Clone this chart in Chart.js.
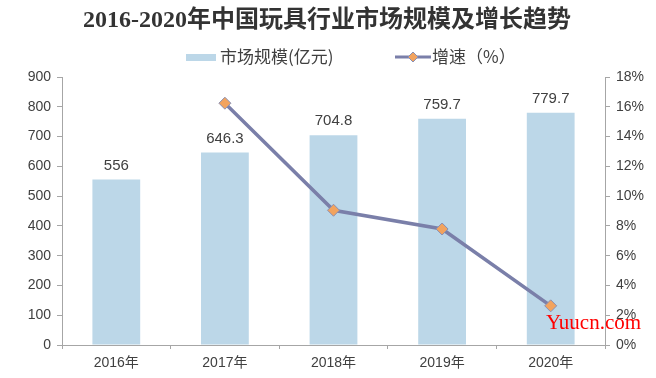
<!DOCTYPE html>
<html>
<head>
<meta charset="utf-8">
<script src="https://cdn.jsdelivr.net/npm/chart.js@4.4.1/dist/chart.umd.min.js"></script>
<style>
  html, body { margin: 0; padding: 0; background: #fff; }
  #wrap { position: relative; width: 656px; height: 378px; }
  #wm { position: absolute; left: 546px; top: 310px; font-family: "Liberation Serif", "DejaVu Serif", serif; font-size: 21px; color: #ff0000; white-space: nowrap; }
</style>
</head>
<body>
<div id="wrap">
  <canvas id="c" width="656" height="378"></canvas>
  <div id="wm">Yuucn.com</div>
</div>
<script>
const categories = ["2016年", "2017年", "2018年", "2019年", "2020年"];
const marketSize = [556, 646.3, 704.8, 759.7, 779.7];
const growthRate = [null, 16.24, 9.05, 7.79, 2.63];
const marketLabel = "市场规模(亿元)";
const growthLabel = "增速（%）";
const titleText = "2016-2020年中国玩具行业市场规模及增长趋势";

const BAR_COLOR = "#bcd7e8";
const LINE_COLOR = "#7a7fa9";
const MARK_COLOR = "#f2a35e";
const AXIS_COLOR = "#a6a6a6";
const TEXT_COLOR = "#404040";
const SANS = '"Liberation Sans", Arial, "Noto Sans CJK SC", sans-serif';

const overlay = {
  id: "overlay",
  afterDraw(chart) {
    const ctx = chart.ctx;
    ctx.save();
    // bar value labels
    const meta = chart.getDatasetMeta(1);
    ctx.font = "15px " + SANS;
    ctx.fillStyle = TEXT_COLOR;
    ctx.textAlign = "center";
    ctx.textBaseline = "middle";
    meta.data.forEach((bar, i) => {
      ctx.fillText(String(marketSize[i]), bar.x, bar.y - 14);
    });
    // title
    ctx.font = 'bold 24px "Liberation Serif", "Noto Sans CJK SC", serif';
    ctx.fillStyle = "#333333";
    ctx.textAlign = "center";
    ctx.fillText(titleText, 327, 21);
    // legend
    const ly = 57;
    ctx.fillStyle = BAR_COLOR;
    ctx.fillRect(186, ly - 3, 30, 7);
    ctx.font = '17px "Noto Sans CJK SC", sans-serif';
    ctx.fillStyle = TEXT_COLOR;
    ctx.textAlign = "left";
    ctx.fillText(marketLabel, 220, ly);
    ctx.strokeStyle = LINE_COLOR;
    ctx.lineWidth = 3;
    ctx.beginPath();
    ctx.moveTo(395, ly);
    ctx.lineTo(431, ly);
    ctx.stroke();
    ctx.fillStyle = MARK_COLOR;
    ctx.strokeStyle = "#8a8fb2";
    ctx.lineWidth = 1;
    ctx.beginPath();
    ctx.moveTo(413, ly - 5);
    ctx.lineTo(418, ly);
    ctx.lineTo(413, ly + 5);
    ctx.lineTo(408, ly);
    ctx.closePath();
    ctx.fill();
    ctx.stroke();
    ctx.fillStyle = TEXT_COLOR;
    ctx.fillText(growthLabel, 432, ly);
    ctx.restore();
  }
};

new Chart(document.getElementById("c"), {
  data: {
    labels: categories,
    datasets: [
      {
        type: "line",
        label: growthLabel,
        data: growthRate,
        yAxisID: "y1",
        borderColor: LINE_COLOR,
        borderWidth: 3.5,
        pointStyle: "rectRot",
        pointRadius: 6,
        pointBackgroundColor: MARK_COLOR,
        pointBorderColor: "#8a8fb2",
        pointBorderWidth: 1,
        tension: 0,
        order: 0
      },
      {
        type: "bar",
        label: marketLabel,
        data: marketSize,
        yAxisID: "y",
        backgroundColor: BAR_COLOR,
        barPercentage: 0.44,
        categoryPercentage: 1,
        order: 1
      }
    ]
  },
  options: {
    responsive: false,
    animation: false,
    devicePixelRatio: 1,
    layout: { padding: { top: 77, left: 0, right: 0, bottom: 0 } },
    plugins: { legend: { display: false }, title: { display: false }, tooltip: { enabled: false } },
    scales: {
      x: {
        offset: true,
        grid: { offset: true, drawOnChartArea: false, drawTicks: true, tickLength: 4, color: AXIS_COLOR },
        border: { color: AXIS_COLOR, width: 1 },
        ticks: { color: TEXT_COLOR, font: { size: 14, family: SANS }, padding: 6, maxRotation: 0 },
        afterFit(s) { s.height = 33; }
      },
      y: {
        position: "left",
        min: 0, max: 900,
        ticks: { stepSize: 100, color: TEXT_COLOR, font: { size: 14, family: SANS }, padding: 6 },
        grid: { drawOnChartArea: false, drawTicks: true, tickLength: 5, color: AXIS_COLOR },
        border: { color: AXIS_COLOR, width: 1 },
        afterFit(s) { s.width = 62; }
      },
      y1: {
        position: "right",
        min: 0, max: 18,
        ticks: { stepSize: 2, color: TEXT_COLOR, font: { size: 14, family: SANS }, padding: 6, callback: v => v + "%" },
        grid: { drawOnChartArea: false, drawTicks: true, tickLength: 5, color: AXIS_COLOR },
        border: { color: AXIS_COLOR, width: 1 },
        afterFit(s) { s.width = 51; }
      }
    }
  },
  plugins: [overlay]
});
</script>
</body>
</html>
